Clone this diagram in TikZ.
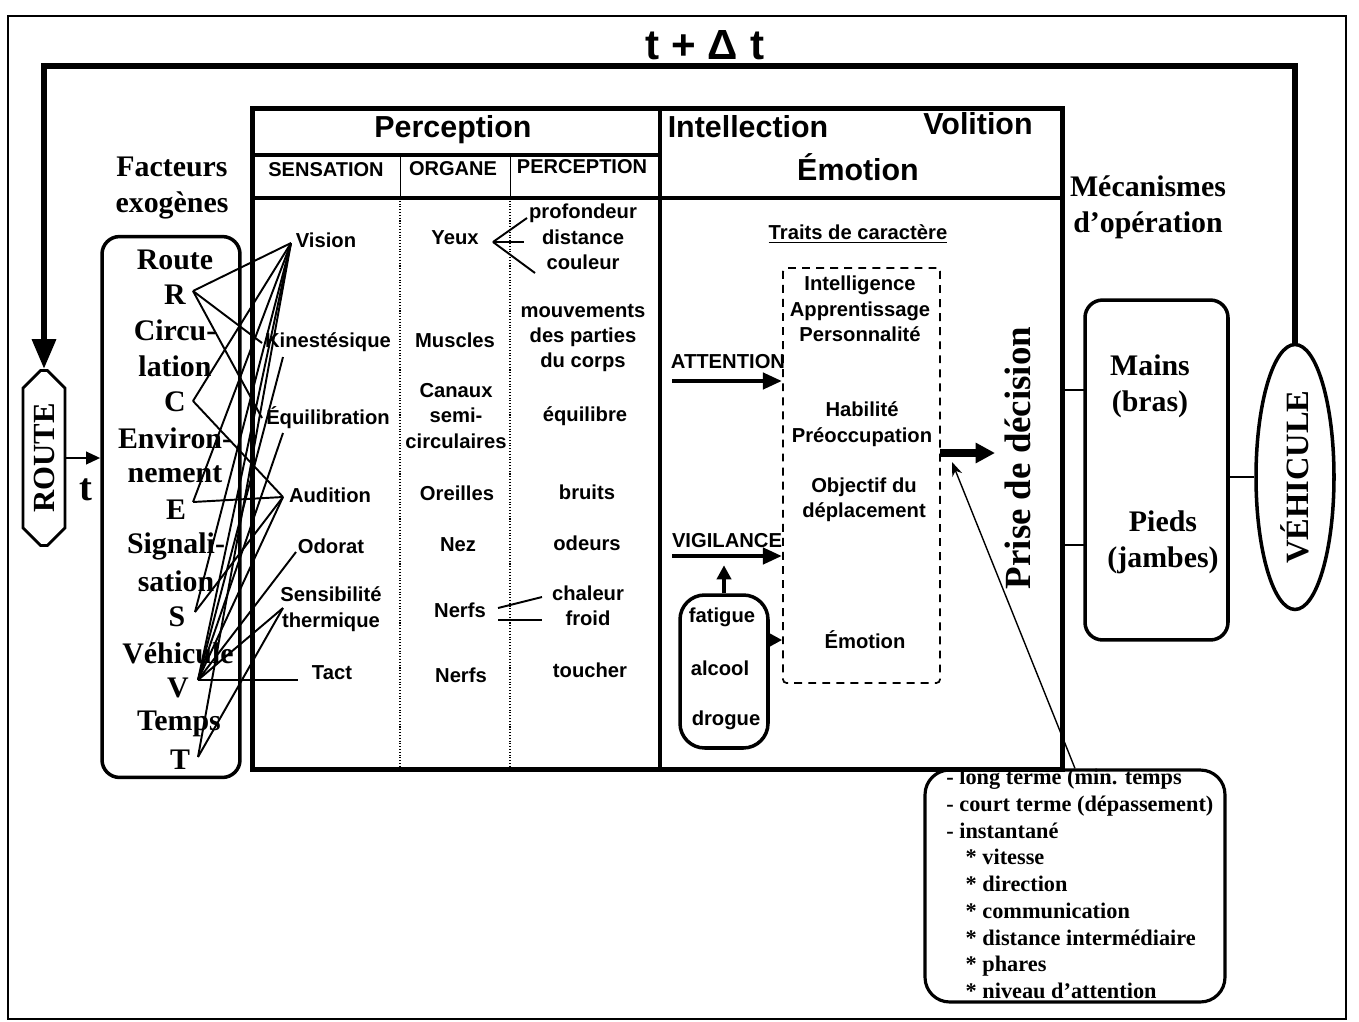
\documentclass[tikz,border=0pt]{standalone}
\usepackage{fontspec}
\setmainfont{Liberation Serif}
\setsansfont{Liberation Sans}
\usepackage{graphicx}
\usetikzlibrary{arrows.meta,shapes.misc,shapes.geometric}

\begin{document}
\begin{tikzpicture}[x=0.02cm, y=-0.02cm,
    % Define the styles for the nodes
    every node/.style={inner sep=0pt, align=center},
    serif/.style={font=\bfseries\fontsize{17}{20.5}\selectfont},
    list/.style={font=\bfseries\fontsize{12.7}{15.2}\selectfont, align=left},
    head/.style={font=\sffamily\bfseries\fontsize{17.3}{20}\selectfont},
    subhead/.style={font=\sffamily\bfseries\fontsize{11.4}{14}\selectfont},
    sense/.style={font=\sffamily\bfseries\fontsize{11.5}{14.5}\selectfont},
    roundbox/.style={draw, line width=2pt, rounded corners=10pt},
    link/.style={line width=1.1pt},
    fatarrow/.style={line width=2.8pt, -{Triangle[length=11pt, width=9pt]}}
    ]

    \useasboundingbox (0,0) rectangle (1359,1021);
    \draw[line width=1.2pt] (8,16) rectangle (1346,1019);

    % feedback loop
    \node[font=\sffamily\bfseries\fontsize{24}{26}\selectfont] (tdt) at (705,45) {t + Δ t};
    \coordinate (top) at (705,66);
    \node (route) [draw, chamfered rectangle, chamfered rectangle xsep=5pt, chamfered rectangle ysep=5pt,
        line width=1.6pt, minimum width=0.84cm, minimum height=3.5cm] at (44,458)
        {\rotatebox{90}{\bfseries\fontsize{17.5}{20}\selectfont ROUTE}};
    \node (veh) [draw, ellipse, line width=2pt, minimum width=1.56cm, minimum height=5.3cm] at (1295,477)
        {\rotatebox{90}{\bfseries\fontsize{18.5}{20}\selectfont VÉHICULE}};
    \draw[line width=3.6pt, -{Triangle[length=17pt, width=13pt]}] (veh.north) |- (top) -| (route.north);

    % facteurs exogenes
    \node[serif] (fact) at (172,188) {Facteurs\\exogènes};
    \node (exo) [roundbox, minimum width=2.76cm, minimum height=10.82cm] at (171,507) {};
    \draw[line width=1.5pt, -{Triangle[length=8pt, width=7pt]}] (route.east) -- (route.east -| exo.west);
    \node[font=\bfseries\fontsize{22}{24}\selectfont] (tlab) at (86,490) {t};

    \node[serif] (f1) at (175,260) {Route};
    \node[serif] (f2) at (175,295) {R};
    \node[serif] (f3) at (175,330) {Circu-};
    \node[serif] (f4) at (175,366) {lation};
    \node[serif] (f5) at (175,402) {C};
    \node[serif] (f6) at (175,438) {Environ-};
    \node[serif] (f7) at (175,474) {nement};
    \node[serif] (f8) at (176,510) {E};
    \node[serif] (f9) at (176,546) {Signali-};
    \node[serif] (f10) at (176,581) {sation};
    \node[serif] (f11) at (177,617) {S};
    \node[serif] (f12) at (178,653) {Véhicule};
    \node[serif] (f13) at (178,688) {V};
    \node[serif] (f14) at (179,724) {Temps};
    \node[serif] (f15) at (180,760) {T};

    % decision list, under the main box
    \node (dec) [roundbox, line width=1.8pt, rounded corners=14pt, minimum width=6cm, minimum height=4.64cm] at (1075,886) {};
    \node[list, anchor=north west] (declist) at (946,769) {- long terme (min. temps\\
        - court terme (dépassement)\\
        - instantané\\
        \hspace*{11pt}* vitesse\\
        \hspace*{11pt}* direction\\
        \hspace*{11pt}* communication\\
        \hspace*{11pt}* distance intermédiaire\\
        \hspace*{11pt}* phares\\
        \hspace*{11pt}* niveau d’attention};

    % main box
    \node (main) [draw, line width=2.8pt, minimum width=16.22cm, minimum height=13.24cm] at (657.5,439) {};
    \draw[line width=1.8pt] (252,155) -- (660,155);
    \draw[line width=2pt] (252,198) -- (1063,198);
    \draw[line width=2.4pt] (660,108) -- (660,770);
    \draw[line width=0.5pt] (400,155) -- (400,198);
    \draw[line width=0.5pt] (510,155) -- (510,198);
    \draw[line width=0.6pt, densely dotted] (400,198) -- (400,770);
    \draw[line width=0.6pt, densely dotted] (510,198) -- (510,770);

    \node[head] (perc) at (453,130) {Perception};
    \node[subhead] (sens) at (326,170) {SENSATION};
    \node[subhead] (org) at (453,169) {ORGANE};
    \node[subhead] (perh) at (582,167) {PERCEPTION};
    \node[head] (intel) at (748,127) {Intellection};
    \node[head] (vol) at (978,124) {Volition};
    \node[head] (emo) at (858,167) {Émotion};

    % sensation
    \node[sense] (vis) at (326,240) {Vision};
    \node[sense] (kin) at (328,342) {Kinestésique};
    \node[sense] (equ) at (328,418) {Équilibration};
    \node[sense] (aud) at (330,495) {Audition};
    \node[sense] (odo) at (331,546) {Odorat};
    \node[sense] (sen) at (331,609) {Sensibilité\\thermique};
    \node[sense] (tac) at (332,673) {Tact};

    % organe
    \node[sense] (yeux) at (455,238) {Yeux};
    \node[sense] (musc) at (455,340) {Muscles};
    \node[sense] (can) at (456,416) {Canaux\\semi-\\circulaires};
    \node[sense] (orei) at (457,493) {Oreilles};
    \node[sense] (nez) at (458,545) {Nez};
    \node[sense] (nerf1) at (460,610) {Nerfs};
    \node[sense] (nerf2) at (461,675) {Nerfs};

    % perception
    \node[sense] (pvis) at (583,237) {profondeur\\distance\\couleur};
    \node[sense] (pkin) at (583,338) {mouvements\\des parties\\du corps};
    \node[sense] (pequ) at (585,416) {équilibre};
    \node[sense] (paud) at (587,492) {bruits};
    \node[sense] (podo) at (587,543) {odeurs};
    \node[sense] (psen) at (588,606) {chaleur\\froid};
    \node[sense] (ptac) at (590,670) {toucher};

    \coordinate (yf) at (493,242);
    \coordinate (y1) at (527,218);
    \coordinate (y2) at (524,242);
    \coordinate (y3) at (535,273);
    \draw[link] (yf) -- (y1);
    \draw[link] (yf) -- (y2);
    \draw[link] (yf) -- (y3);
    \coordinate (n1) at (498,608);
    \coordinate (n2) at (542,597);
    \coordinate (n3) at (498,620);
    \coordinate (n4) at (542,620);
    \draw[link] (n1) -- (n2);
    \draw[link] (n3) -- (n4);

    % links from the factors to the senses
    \coordinate (hR) at (193,291);
    \coordinate (hC) at (193,401);
    \coordinate (hE) at (193,502);
    \coordinate (hS) at (195,612);
    \coordinate (hV) at (198,680);
    \coordinate (hT) at (198,757);
    \coordinate (sVis) at (291,243);
    \coordinate (sKin) at (262,343);
    \coordinate (sKin2) at (283,357);
    \coordinate (sEqu) at (262,418);
    \coordinate (sEqu2) at (283,433);
    \coordinate (sAud) at (283,497);
    \coordinate (sOdo) at (296,552);
    \coordinate (sSen) at (283,608);
    \coordinate (sTac) at (298,680);

    \draw[link] (hR) -- (sVis);
    \draw[link] (hR) -- (sKin);
    \draw[link] (hR) -- (sEqu);
    \draw[link] (hC) -- (sVis);
    \draw[link] (hC) -- (sAud);
    \draw[link] (hE) -- (sVis);
    \draw[link] (hE) -- (sAud);
    \draw[link] (hS) -- (sVis);
    \draw[link] (hS) -- (sAud);
    \draw[link] (hV) -- (sVis);
    \draw[link] (hV) -- (sKin2);
    \draw[link] (hV) -- (sEqu2);
    \draw[link] (hV) -- (sAud);
    \draw[link] (hV) -- (sOdo);
    \draw[link] (hV) -- (sSen);
    \draw[link] (hV) -- (sTac);
    \draw[link] (hT) -- (sVis);
    \draw[link] (hT) -- (sSen);

    % intellection
    \node[sense] (traitsh) at (858,234) {\underline{Traits de caractère}};
    \node (traits) [draw, line width=1pt, dash pattern=on 4.5pt off 3.5pt, rounded corners=2pt,
        minimum width=3.14cm, minimum height=8.3cm] at (861.5,475.5) {};
    \node[sense] (tr1) at (860,309) {Intelligence\\Apprentissage\\Personnalité};
    \node[sense] (tr2) at (862,424) {Habilité\\Préoccupation};
    \node[sense] (tr3) at (864,500) {Objectif du\\déplacement};
    \node[sense] (tr4) at (865,640) {Émotion};

    \node[sense] (att) at (728,362) {ATTENTION};
    \node[sense] (vig) at (727,541) {VIGILANCE};
    \coordinate (attS) at (672,381);
    \coordinate (vigS) at (672,556);
    \draw[fatarrow] (attS) -- (traits.west |- attS);
    \draw[fatarrow] (vigS) -- (traits.west |- vigS);

    \node (subst) [roundbox, rounded corners=14pt, minimum width=1.76cm, minimum height=3.06cm] at (724,671.5) {};
    \node[sense] (fat) at (722,617) {fatigue};
    \node[sense] (alc) at (720,668) {alcool};
    \node[sense] (dro) at (726,720) {drogue};
    \draw[line width=2pt, -{Triangle[length=8pt, width=8pt]}] (subst.north) -- ++(0,-28);
    \draw[line width=2pt, -{Triangle[length=8pt, width=8pt]}] (subst.east |- tr4) -- (traits.west |- tr4);

    % decision
    \node[font=\bfseries\fontsize{21}{24}\selectfont] (prise) at (1018,458) {\rotatebox{90}{Prise de décision}};
    \coordinate (dA) at (940,453);
    \coordinate (dB) at (995,453);
    \draw[line width=4pt, -{Triangle[length=11pt, width=11pt]}] (dA) -- (dB);
    \coordinate (pd) at (952,462);
    \draw[line width=0.8pt, -{Stealth[length=8pt, width=6pt]}] (dec.north) -- (pd);

    % mecanismes
    \node[serif] (meca) at (1148,207) {Mécanismes\\d’opération};
    \node (mech) [roundbox, minimum width=2.86cm, minimum height=6.8cm] at (1156.5,470) {};
    \node[serif] (mains) at (1150,386) {Mains\\(bras)};
    \node[serif] (pieds) at (1163,542) {Pieds\\(jambes)};
    \coordinate (cm) at (1085,390);
    \coordinate (cp) at (1085,545);
    \draw[line width=1.6pt] (main.east |- cm) -- (cm);
    \draw[line width=1.6pt] (main.east |- cp) -- (cp);
    \draw[line width=1.6pt] (veh.west -| mech.east) -- (veh.west);

\end{tikzpicture}
\end{document}
